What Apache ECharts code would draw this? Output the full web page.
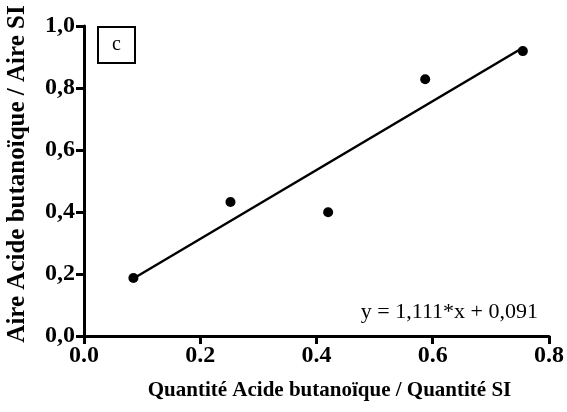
<!DOCTYPE html>
<html><head><meta charset="utf-8">
<script src="https://cdn.jsdelivr.net/npm/echarts@6/dist/echarts.min.js"></script>
<style>html,body{margin:0;padding:0;background:#fff}#c{width:567px;height:412px}</style>
</head><body><div id="c"></div>
<script>
const xValues = [0.085, 0.252, 0.420, 0.587, 0.755];
const yValues = [0.187, 0.432, 0.399, 0.828, 0.919];
const slope = 1.111;
const intercept = 0.091;
const panelLabel = 'c';
const equationText = 'y = 1,111*x + 0,091';
const xName = 'Quantité Acide butanoïque / Quantité SI';
const yName = 'Aire Acide butanoïque / Aire SI';

const points = xValues.map((x, i) => [x, yValues[i]]);
const xmin = Math.min(...xValues), xmax = Math.max(...xValues);
const fitLine = [[xmin, slope * xmin + intercept], [xmax, slope * xmax + intercept]];

const chart = echarts.init(document.getElementById('c'));
const serif = '"Liberation Serif","Times New Roman",serif';
chart.setOption({
  animation: false,
  grid: {left: 84, right: 18, top: 26, bottom: 76, containLabel: false, outerBoundsMode: 'none'},
  xAxis: {
    type: 'value', min: 0, max: 0.8, interval: 0.2,
    name: xName, nameLocation: 'middle', nameGap: 44,
    nameTextStyle: {fontFamily: serif, fontWeight: 'bold', fontSize: 21, color: '#000', padding: [0,0,0,26]},
    axisLine: {lineStyle: {color: '#000', width: 3}},
    axisTick: {inside: false, length: 8, lineStyle: {color: '#000', width: 3}},
    axisLabel: {fontFamily: serif, fontWeight: 'bold', fontSize: 24, color: '#000', margin: 8,
      formatter: v => v.toFixed(1)},
    splitLine: {show: false}
  },
  yAxis: {
    type: 'value', min: 0, max: 1.0, interval: 0.2,
    name: yName, nameLocation: 'middle', nameGap: 54,
    nameTextStyle: {fontFamily: serif, fontWeight: 'bold', fontSize: 25, color: '#000', padding: [0,0,0,14]},
    axisLine: {lineStyle: {color: '#000', width: 3}},
    axisTick: {inside: false, length: 8, lineStyle: {color: '#000', width: 3}},
    axisLabel: {fontFamily: serif, fontWeight: 'bold', fontSize: 24, color: '#000', margin: 9,
      formatter: v => v.toFixed(1).replace('.', ',')},
    splitLine: {show: false}
  },
  series: [
    {type: 'line', data: fitLine, symbol: 'none', lineStyle: {color: '#000', width: 2.5}, z: 2},
    {type: 'scatter', data: points, symbol: 'circle', symbolSize: 10, itemStyle: {color: '#000', opacity: 1}, z: 3}
  ],
  graphic: [
    {type: 'rect', shape: {x: 98, y: 27, width: 37, height: 36}, style: {fill: '#fff', stroke: '#000', lineWidth: 2}},
    {type: 'text', x: 116.5, y: 45, style: {text: panelLabel, fontFamily: serif, fontSize: 20, fill: '#000', align: 'center', verticalAlign: 'middle'}},
    {type: 'text', x: 538, y: 312, style: {text: equationText, fontFamily: serif, fontSize: 22, fill: '#000', align: 'right', verticalAlign: 'middle'}}
  ]
});
</script></body></html>
